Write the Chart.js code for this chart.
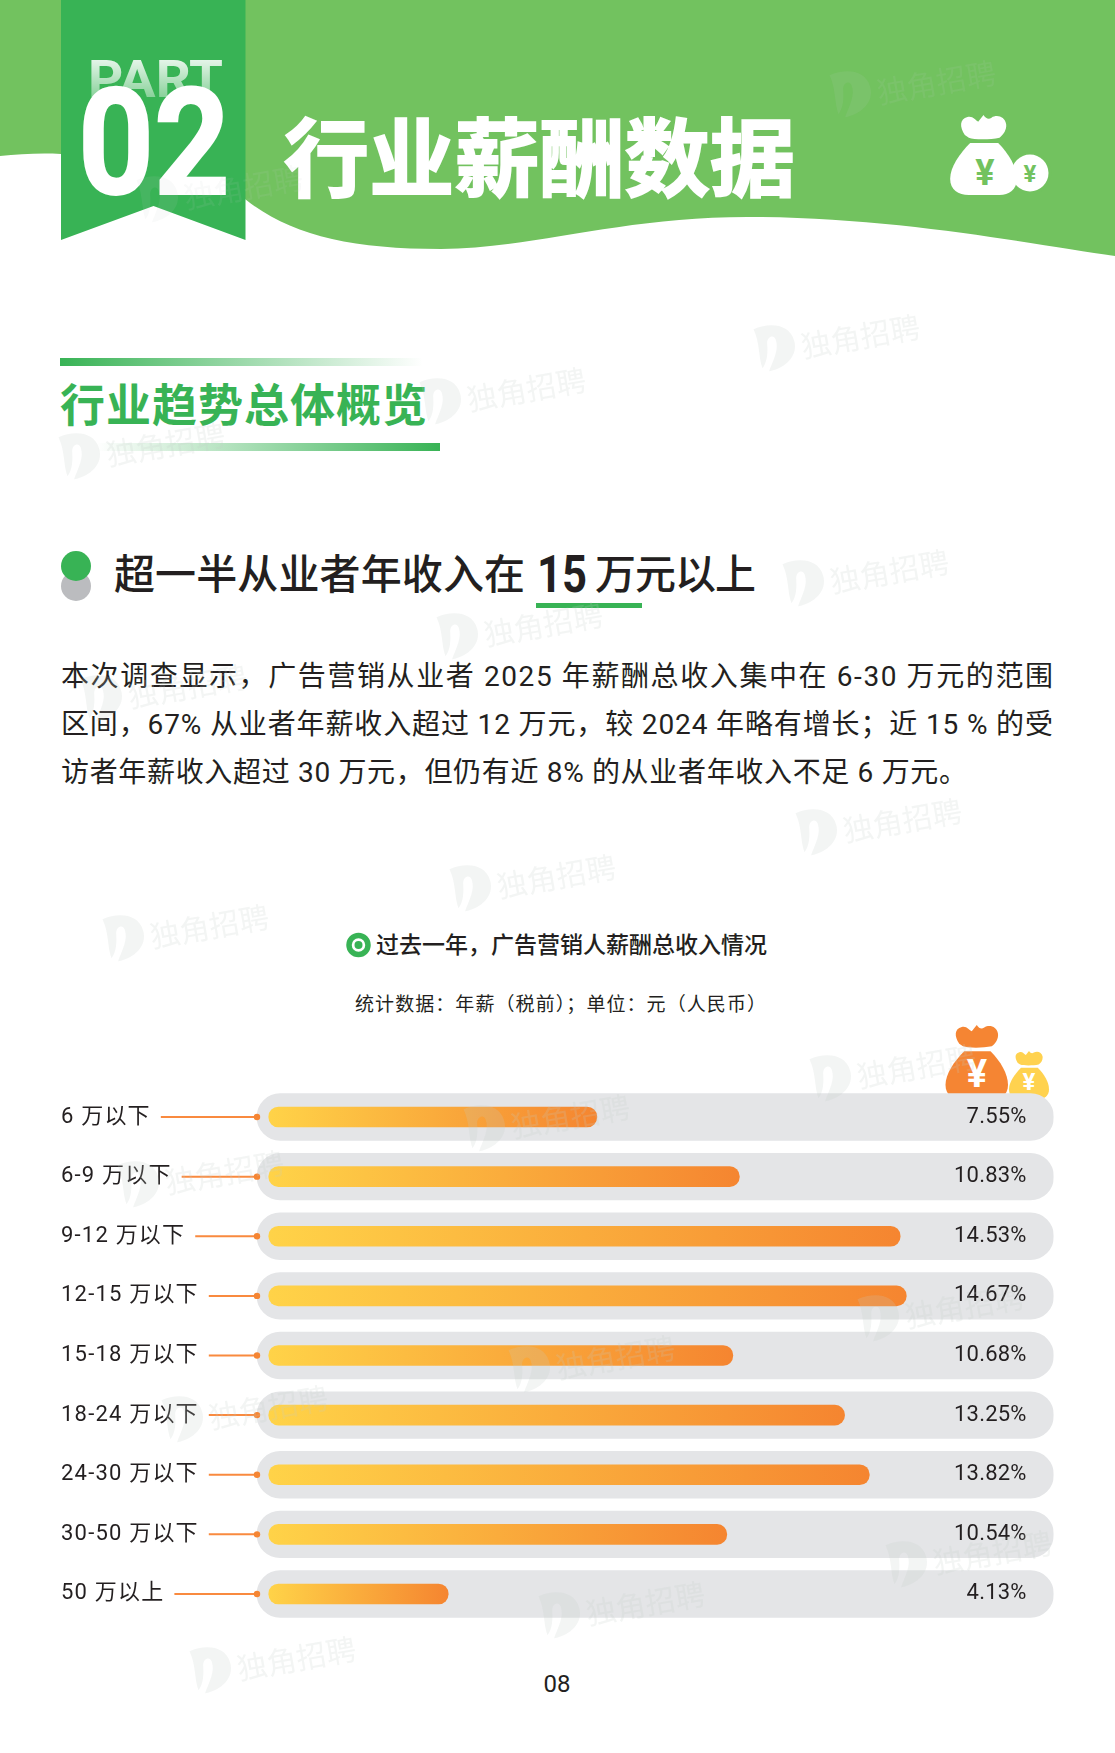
<!DOCTYPE html>
<html lang="zh">
<head>
<meta charset="utf-8">
<title>行业薪酬数据</title>
<script src="https://cdn.jsdelivr.net/npm/chart.js@4"></script>
<style>
  html, body { margin: 0; background: #fff; }
  #page { position: relative; width: 1115px; height: 1753px; overflow: hidden; }
  #page svg, #page canvas { position: absolute; left: 0; top: 0; }
  #salaryChart { top: 1060px !important; }
  #marks { pointer-events: none; }
  text { font-family: Roboto, "Noto Sans CJK SC", sans-serif; fill: #231f20; }
</style>
</head>
<body>
<div id="page">
  <svg width="1115" height="1753" viewBox="0 0 1115 1753">
    <defs>
      <linearGradient id="fadeRight"><stop offset="0" stop-color="#38b355"/><stop offset="1" stop-color="#38b355" stop-opacity="0"/></linearGradient>
      <linearGradient id="fadeLeft"><stop offset="0" stop-color="#38b355" stop-opacity="0"/><stop offset="1" stop-color="#38b355"/></linearGradient>
      <linearGradient id="partFade" x1="0" y1="0" x2="0" y2="1"><stop offset="0" stop-color="#fff"/><stop offset="1" stop-color="#fff" stop-opacity=".25"/></linearGradient>
      <symbol id="bag" viewBox="0 0 100 120" overflow="visible">
        <path d="M22 30C14 18 14 6 26 3C34 1 38 8 42 10L50 0C54 6 58 7 62 4C70-1 82 2 84 14C85 22 80 30 74 34C60 37 36 37 28 34Z"/>
        <path d="M30 42H72C88 58 100 78 100 96C100 112 88 120 74 120H28C12 120 0 112 0 96C0 78 14 58 30 42Z"/>
      </symbol>
    </defs>

    <!-- header band -->
    <path fill="#72c25f" d="M0 0H1115V256C1040 246 900 217 747 217C620 217 530 249 441 249C350 249 290 235 245 199C200 165 110 152 61 154C40 153 20 154 0 156Z"/>
    <path fill="#38b355" d="M61 0H245.500V240L153.500 206L61 240Z"/>
    <text x="88" y="97" font-size="52" font-weight="700" textLength="135" lengthAdjust="spacingAndGlyphs" style="fill:url(#partFade)">PART</text>
    <text x="78" y="194" font-size="149" font-weight="700" textLength="152" lengthAdjust="spacingAndGlyphs" style="fill:#fff;stroke:#fff;stroke-width:2">02</text>
    <text x="284" y="190" font-size="85" font-weight="700" textLength="511" style="fill:#fff;stroke:#fff;stroke-width:2">行业薪酬数据</text>
    <circle cx="1030" cy="173" r="21.500" fill="#72c25f"/>
    <circle cx="1030" cy="173" r="18.500" fill="#fff"/>
    <text x="1030" y="182" font-size="24" font-weight="700" text-anchor="middle" style="fill:#72c25f">¥</text>
    <use href="#bag" x="950" y="115" width="67" height="80" fill="#fff"/>
    <text x="985" y="185" font-size="36" font-weight="700" text-anchor="middle" style="fill:#72c25f">¥</text>

    <!-- section heading -->
    <rect x="60" y="358" width="363" height="8" fill="url(#fadeRight)"/>
    <text x="60" y="422" font-size="45" font-weight="700" textLength="367" style="fill:#38b355">行业趋势总体概览</text>
    <rect x="97" y="443" width="343" height="8" fill="url(#fadeLeft)"/>

    <!-- headline -->
    <circle cx="76" cy="586" r="15" fill="#bbbcbf"/>
    <circle cx="76" cy="566" r="15" fill="#38b355"/>
    <text x="114" y="589" font-size="41" font-weight="500" textLength="411">超一半从业者年收入在</text>
    <text x="537" y="592" font-size="52" font-weight="700" textLength="50" lengthAdjust="spacingAndGlyphs">15</text>
    <text x="595" y="589" font-size="41" font-weight="500" textLength="161">万元以上</text>
    <rect x="536" y="603" width="106" height="5" fill="#38b355"/>

    <!-- body copy -->
    <text x="61" y="686" font-size="28" textLength="992">本次调查显示，广告营销从业者 2025 年薪酬总收入集中在 6-30 万元的范围</text>
    <text x="61" y="734" font-size="28" textLength="992">区间，67% 从业者年薪收入超过 12 万元，较 2024 年略有增长；近 15 % 的受</text>
    <text x="61" y="782" font-size="28" textLength="906">访者年薪收入超过 30 万元，但仍有近 8% 的从业者年收入不足 6 万元。</text>

    <!-- chart heading -->
    <circle cx="358.500" cy="945" r="9.500" fill="none" stroke="#38b355" stroke-width="5.500"/>
    <circle cx="358.500" cy="945" r="4" fill="#38b355"/>
    <text x="376" y="953" font-size="23" font-weight="500" textLength="391">过去一年，广告营销人薪酬总收入情况</text>
    <text x="355" y="1011" font-size="19" textLength="411">统计数据：年薪（税前）；单位：元（人民币）</text>

    <!-- bags sitting behind the first track -->
    <use href="#bag" x="945.500" y="1025" width="62.500" height="75" fill="#f58533"/>
    <text x="977" y="1087" font-size="38" font-weight="700" text-anchor="middle" style="fill:#fff">¥</text>
    <use href="#bag" x="1009" y="1051" width="40" height="48" fill="#ffd24f"/>
    <text x="1029" y="1090" font-size="24" font-weight="700" text-anchor="middle" style="fill:#fff">¥</text>

    <text x="557" y="1692" font-size="24" text-anchor="middle">08</text>
  </svg>

  <canvas id="salaryChart" width="1115" height="600"></canvas>

  <svg id="marks" width="1115" height="1753" viewBox="0 0 1115 1753"></svg>
</div>

<script>
const categories = ['6 万以下', '6-9 万以下', '9-12 万以下', '12-15 万以下', '15-18 万以下', '18-24 万以下', '24-30 万以下', '30-50 万以下', '50 万以上'];
const shares = [7.55, 10.83, 14.53, 14.67, 10.68, 13.25, 13.82, 10.54, 4.13];

// watermark anchors, x then y
const stampsX = [833, 140, 757, 423, 62, 786, 440, 84, 799, 453, 106, 813, 467, 121, 861, 512, 165, 889, 542, 193];
const stampsY = [95, 200, 349, 402, 457, 584, 637, 699, 833, 889, 939, 1079, 1129, 1185, 1319, 1370, 1420, 1565, 1616, 1671];

const xMin = -0.27;
const xMax = 18.06;
const fontStack = 'Roboto, "Noto Sans CJK SC", sans-serif';

// leader line and dot for each row, plus the percentage at the right
const rowDecor = {
  id: 'rowDecor',
  beforeDraw(chart) {
    chart.ctx.letterSpacing = '1.2px'; // row labels run a little wide
  },
  afterDatasetsDraw(chart) {
    const { ctx, scales, chartArea } = chart;
    const yScale = scales.y;
    ctx.save();
    ctx.font = `22px ${fontStack}`;
    categories.forEach((name, i) => {
      const y = yScale.getPixelForValue(i);
      const labelEnd = yScale.left + ctx.measureText(name).width;
      ctx.strokeStyle = '#f98a3f';
      ctx.lineWidth = 2;
      ctx.beginPath();
      ctx.moveTo(labelEnd + 10, y);
      ctx.lineTo(chartArea.left, y);
      ctx.stroke();
      ctx.fillStyle = '#f58533';
      ctx.beginPath();
      ctx.arc(chartArea.left, y, 3.2, 0, Math.PI * 2);
      ctx.fill();

      ctx.letterSpacing = '0.2px';
      ctx.fillStyle = '#231f20';
      ctx.textAlign = 'right';
      ctx.textBaseline = 'middle';
      ctx.fillText(shares[i].toFixed(2) + '%', chartArea.right - 27, y);
      ctx.textAlign = 'left';
      ctx.letterSpacing = '1.2px';
    });
    ctx.restore();
  }
};

new Chart(document.getElementById('salaryChart'), {
  type: 'bar',
  data: {
    labels: categories,
    datasets: [
      {
        data: shares,
        grouped: false,
        barThickness: 20,
        borderRadius: 10,
        borderSkipped: false,
        backgroundColor(c) {
          const x = c.chart.scales.x;
          const from = x ? x.getPixelForValue(0) : NaN;
          const to = x ? x.getPixelForValue(shares[c.dataIndex]) : NaN;
          // scales have no pixels yet on the first pass
          if (!Number.isFinite(from) || !Number.isFinite(to)) return '#f58530';
          const g = c.chart.ctx.createLinearGradient(from, 0, to, 0);
          g.addColorStop(0, '#ffd348');
          g.addColorStop(1, '#f58530');
          return g;
        }
      },
      {
        // full-width rounded track behind each bar
        data: categories.map(() => [xMin, xMax]),
        grouped: false,
        barThickness: 46.7,
        borderRadius: 23.4,
        borderSkipped: false,
        backgroundColor: '#e4e5e7'
      }
    ]
  },
  options: {
    indexAxis: 'y',
    responsive: false,
    animation: false,
    devicePixelRatio: 1,
    layout: { padding: { left: 61, right: 61.4, top: 27.2, bottom: 36.2 } },
    plugins: { legend: { display: false }, tooltip: { enabled: false } },
    scales: {
      x: { display: false, min: xMin, max: xMax },
      y: {
        afterFit(scale) { scale.width = 196; },
        grid: { display: false },
        border: { display: false },
        ticks: {
          crossAlign: 'far',
          autoSkip: false,
          color: '#231f20',
          font: { family: fontStack, size: 22 }
        }
      }
    }
  },
  plugins: [rowDecor]
});

// tilted logo-and-name stamps across the page
const svgNS = 'http://www.w3.org/2000/svg';
const marks = document.getElementById('marks');
stampsX.forEach((x, i) => {
  const g = document.createElementNS(svgNS, 'g');
  g.setAttribute('transform', `translate(${x} ${stampsY[i]}) rotate(-10)`);
  g.setAttribute('opacity', i < 2 ? '0.1' : '0.2');
  const logo = document.createElementNS(svgNS, 'path');
  logo.setAttribute('d', 'M0-20C16-24 36-20 38-2C40 14 24 24 8 24C14 14 22 4 20-6C19-12 12-10 11-4C10 6 8 14 2 20C0 8 4-6 0-20Z');
  logo.setAttribute('fill', '#c4cdc8');
  const label = document.createElementNS(svgNS, 'text');
  label.textContent = '独角招聘';
  label.setAttribute('x', 44);
  label.setAttribute('y', 17);
  label.setAttribute('font-size', 30);
  label.setAttribute('style', 'fill:#c4cdc8');
  g.append(logo, label);
  marks.appendChild(g);
});
</script>
</body>
</html>
